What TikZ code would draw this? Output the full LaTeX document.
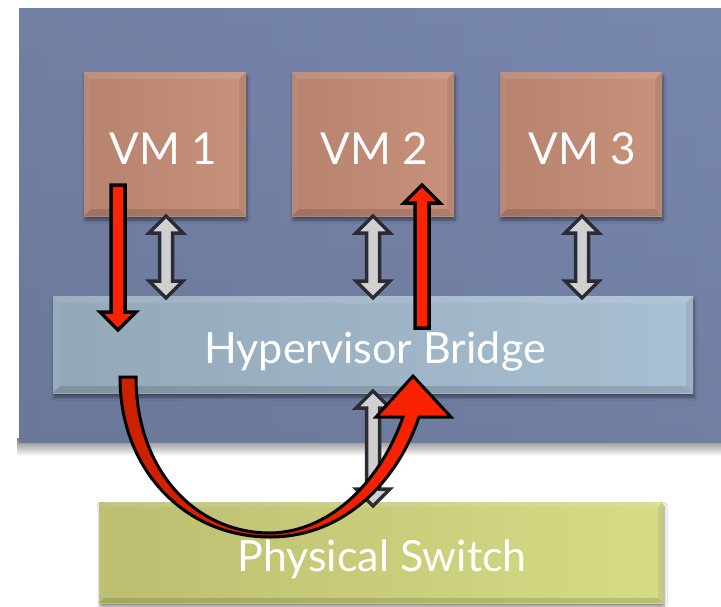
\documentclass[tikz,border=0pt]{standalone}
\usepackage{fontspec}
\setmainfont{Lato}
\usetikzlibrary{calc,shadows.blur}
\definecolor{panelD}{HTML}{6B7899}
\definecolor{panelL}{HTML}{7887AE}
\definecolor{vmL}{HTML}{C8917B}
\definecolor{vmD}{HTML}{B6836F}
\definecolor{brL}{HTML}{A8C0D3}
\definecolor{brD}{HTML}{93A8B8}
\definecolor{swL}{HTML}{D6DC85}
\definecolor{swD}{HTML}{BCBE70}
\definecolor{redA}{HTML}{FF2200}
\definecolor{redD}{HTML}{CC2000}
\definecolor{grayA}{HTML}{D0D0D0}
\definecolor{grayB}{HTML}{2B2B35}
\tikzset{
  bevel/.style={path picture={
    \fill[white,opacity=0.10] (path picture bounding box.north west) -- (path picture bounding box.north east) -- ++(-#1,-#1) -- ($(path picture bounding box.north west)+(#1,-#1)$) -- cycle;
    \fill[white,opacity=0.05] (path picture bounding box.north west) -- (path picture bounding box.south west) -- ++(#1,#1) -- ($(path picture bounding box.north west)+(#1,-#1)$) -- cycle;
    \fill[black,opacity=0.13] (path picture bounding box.south west) -- (path picture bounding box.south east) -- ++(-#1,#1) -- ($(path picture bounding box.south west)+(#1,#1)$) -- cycle;
    \fill[black,opacity=0.07] (path picture bounding box.north east) -- (path picture bounding box.south east) -- ++(-#1,#1) -- ($(path picture bounding box.north east)+(-#1,-#1)$) -- cycle;
  }},
  boxshadow/.style={blur shadow={shadow xshift=1pt,shadow yshift=-4pt,shadow blur steps=6,shadow opacity=45,shadow blur radius=3pt}},
  vmbox/.style={shade,left color=vmD,right color=vmL,minimum width=162pt,minimum height=144pt,inner sep=0pt,boxshadow,bevel=7pt},
  brbox/.style={shade,left color=brD,right color=brL,minimum width=640pt,minimum height=97pt,inner sep=0pt,boxshadow,bevel=7pt},
  swbox/.style={shade,left color=swD,right color=swL,minimum width=564pt,minimum height=101pt,inner sep=0pt,boxshadow,bevel=5pt},
  lbl/.style={text=white,anchor=base,inner sep=0pt},
  vmtxt/.style={lbl,font=\fontsize{44pt}{44pt}\selectfont},
  bigtxt/.style={lbl,font=\fontsize{43pt}{43pt}\selectfont},
  redarrow/.style={fill=redA,draw=black,line width=3.5pt,line join=miter},
  grayarrow/.style={fill=grayA,draw=grayB,line width=3.5pt,line join=miter},
  curvearrow/.style={left color=redD,right color=redA,draw=black,line width=3pt,line join=miter},
}
% single block arrow: style, from, tip
\newcommand\blockarrow[3]{%
  \draw[#1] let \p1=(#2), \p2=(#3), \n1={ifthenelse(\y2>\y1,1,-1)} in
   (\x1-7pt,\y1) -- (\x1-7pt,\y2-\n1*18pt) -- (\x1-18pt,\y2-\n1*18pt) -- (\x2,\y2)
   -- (\x1+18pt,\y2-\n1*18pt) -- (\x1+7pt,\y2-\n1*18pt) -- (\x1+7pt,\y1) -- cycle;}
% double block arrow: style, tip a, tip b
\newcommand\dblarrow[3]{%
  \draw[#1] let \p1=(#2), \p2=(#3), \n1={ifthenelse(\y2>\y1,1,-1)} in
   (\x1,\y1) -- (\x1+17pt,\y1+\n1*17pt) -- (\x1+6.5pt,\y1+\n1*17pt) -- (\x1+6.5pt,\y2-\n1*17pt)
   -- (\x1+17pt,\y2-\n1*17pt) -- (\x2,\y2) -- (\x1-17pt,\y2-\n1*17pt) -- (\x1-6.5pt,\y2-\n1*17pt)
   -- (\x1-6.5pt,\y1+\n1*17pt) -- (\x1-17pt,\y1+\n1*17pt) -- cycle;}
\begin{document}
\begin{tikzpicture}[x=1pt,y=-1pt]
\useasboundingbox (0,0) rectangle (721,606);
\fill[white] (0,0) rectangle (721,606);
% panel shadow
\shade[top color=black!50,bottom color=white] (17,438) rectangle (721,456);
% host panel
\shade[left color=panelD,right color=panelL] (19,8) rectangle (721,442);
\shade[top color=panelL,bottom color=panelD,opacity=0.5] (19,8) rectangle (721,442);
% VMs
\node[vmbox] (vm1) at (165,144) {};
\node[vmbox] (vm2) at (373,144) {};
\node[vmbox] (vm3) at (581,144) {};
\node[vmtxt] (t1) at (163,164) {VM 1};
\node[vmtxt] (t2) at (374,164) {VM 2};
\node[vmtxt] (t3) at (582,164) {VM 3};
% bridge
\node[brbox] (br) at (373,344.5) {};
\node[bigtxt] (tb) at (375,363) {Hypervisor Bridge};
% physical switch
\node[swbox] (sw) at (381,552.5) {};
\node[bigtxt] (ts) at (382,571) {Physical Switch};
% gray double arrows
\coordinate (g1a) at (166,216); \coordinate (g1b) at (166,298);
\coordinate (g2a) at (373,216); \coordinate (g2b) at (373,298);
\coordinate (g3a) at (582,216); \coordinate (g3b) at (582,298);
\coordinate (g4a) at (373,391); \coordinate (g4b) at (373,506);
\dblarrow{grayarrow}{g1a}{g1b}
\dblarrow{grayarrow}{g2a}{g2b}
\dblarrow{grayarrow}{g3a}{g3b}
\dblarrow{grayarrow}{g4a}{g4b}
% red straight arrows
\coordinate (r1a) at (118,185); \coordinate (r1b) at (118,330);
\coordinate (r2a) at (422,328); \coordinate (r2b) at (422,185);
\blockarrow{redarrow}{r1a}{r1b}
\blockarrow{redarrow}{r2a}{r2b}
% curved red arrow
\draw[curvearrow] (120,377) .. controls (120,470) and (185,537) .. (270,537)
  .. controls (345,537) and (398,480) .. (419,417)
  -- (451,417) -- (413,376) -- (376,417) -- (403,417)
  .. controls (383,475) and (335,532) .. (270,533)
  .. controls (195,533) and (136,470) .. (136,377) -- cycle;
\end{tikzpicture}
\end{document}
